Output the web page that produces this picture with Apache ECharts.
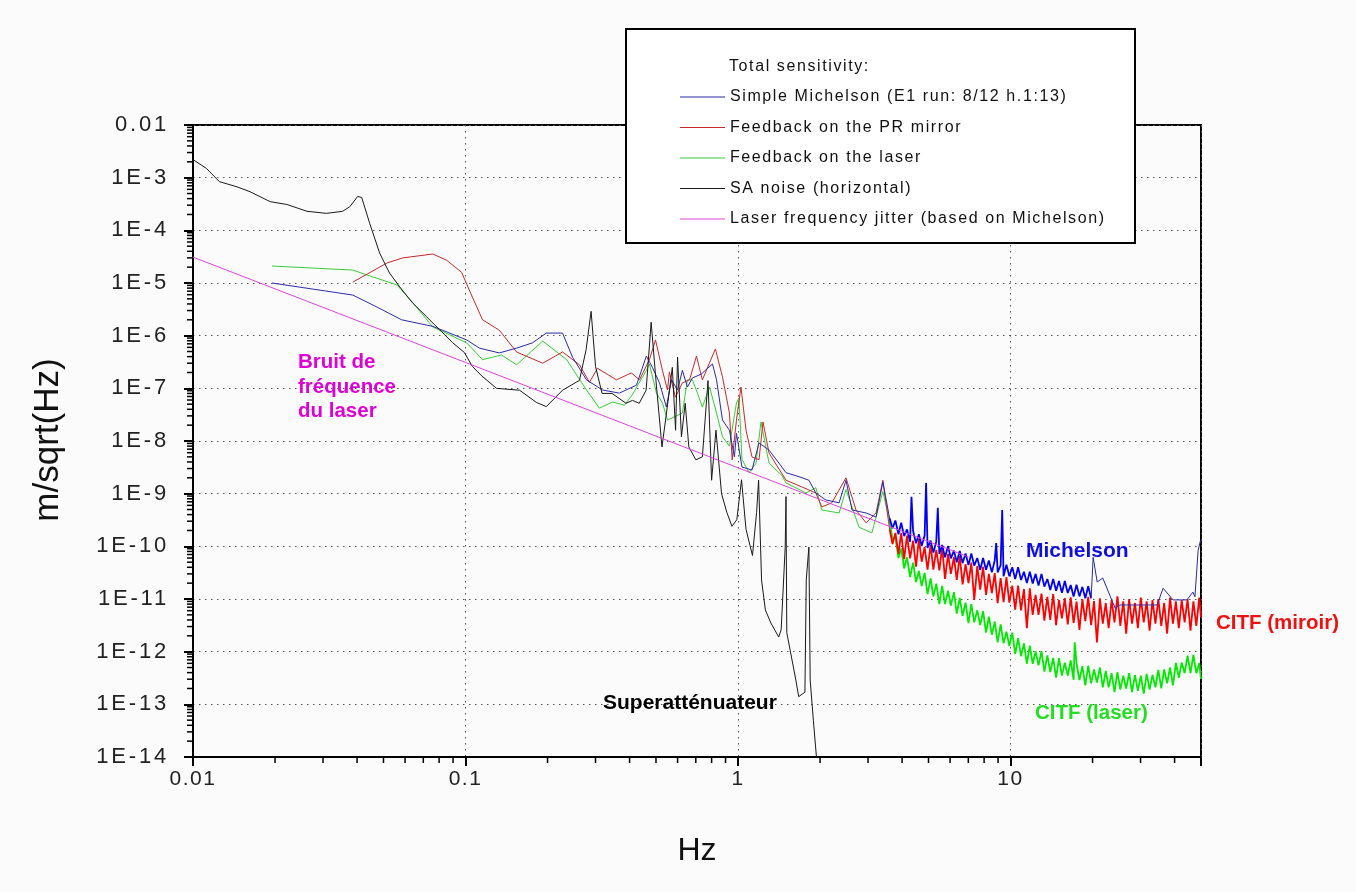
<!DOCTYPE html>
<html>
<head>
<meta charset="utf-8">
<script src="https://cdn.jsdelivr.net/npm/echarts@6/dist/echarts.min.js"></script>
<style>
html,body{margin:0;padding:0;background:#ffffff;}
#chart{width:1356px;height:892px;}
</style>
</head>
<body>
<div id="chart"></div>
<script>
// ---------- tick labels ----------
const xTickLabels = ['0.01', '0.1', '1', '10'];
const yTickLabels = ['0.01', '1E-3', '1E-4', '1E-5', '1E-6', '1E-7', '1E-8', '1E-9',
  '1E-10', '1E-11', '1E-12', '1E-13', '1E-14'];
const minorMultipliers = [2, 3, 4, 5, 6, 7, 8, 9];
const xDecades = [0.01, 0.1, 1, 10];
const yDecades = [1e-14, 1e-13, 1e-12, 1e-11, 1e-10, 1e-9, 1e-8, 1e-7, 1e-6, 1e-5, 1e-4, 1e-3];

// ---------- legend ----------
const legendTitle = 'Total sensitivity:';
const legendNames = [
  'Simple Michelson (E1 run: 8/12 h.1:13)',
  'Feedback on the PR mirror',
  'Feedback on the laser',
  'SA noise (horizontal)',
  'Laser frequency jitter (based on Michelson)'
];

// ---------- series data [Hz, m/sqrt(Hz)] ----------
const michelsonLow = [
  [0.0195, 1e-5], [0.0386, 5.9e-6], [0.0473, 3.5e-6], [0.0583, 2e-6], [0.0759, 1.5e-6],
  [0.101, 8.3e-7], [0.1125, 5.8e-7], [0.133, 4.7e-7], [0.154, 5.8e-7], [0.176, 7.3e-7],
  [0.198, 1.12e-6], [0.227, 1.12e-6], [0.247, 3.9e-7], [0.278, 1.45e-7], [0.318, 9.3e-8],
  [0.367, 8.1e-8], [0.424, 1.15e-7], [0.461, 4.1e-7], [0.485, 2.5e-7], [0.515, 1.27e-7],
  [0.546, 4.4e-8], [0.57, 1.45e-7], [0.6, 9.3e-8], [0.625, 2.2e-7], [0.652, 1.06e-7],
  [0.68, 1.57e-7], [0.734, 1.87e-7], [0.766, 2.3e-7], [0.806, 2.9e-7], [0.834, 1.45e-7],
  [0.877, 2.5e-8], [0.93, 1.6e-8], [0.97, 5e-9], [0.987, 1.4e-8], [1.034, 3.2e-9],
  [1.125, 2.8e-9], [1.194, 9.2e-9], [1.3, 6.7e-9], [1.414, 3.8e-9], [1.5, 2.5e-9],
  [1.674, 2.1e-9], [1.82, 1.8e-9], [1.93, 1.03e-9], [2.1, 7.6e-10], [2.35, 6.7e-10],
  [2.49, 1.8e-9], [2.62, 4.9e-10], [2.95, 4.3e-10], [3.21, 3.6e-10], [3.4, 1.67e-9],
  [3.6, 3.4e-10]
];
const michelsonHigh = [
  [3.6, 3.4e-10], [3.69, 2.2e-10], [3.78, 3.1e-10], [3.88, 1.7e-10], [3.97, 2.8e-10],
  [4.07, 1.56e-10], [4.17, 2.1e-10], [4.28, 1.22e-10], [4.33, 8.7e-10], [4.39, 1.95e-10],
  [4.5, 1.14e-10], [4.61, 1.7e-10], [4.72, 1.01e-10], [4.84, 1.6e-10], [4.9, 1.6e-9],
  [4.96, 9.3e-11], [5.09, 1.28e-10], [5.21, 7.6e-11], [5.34, 1.24e-10], [5.41, 5.4e-10],
  [5.48, 7.2e-11], [5.61, 1.06e-10], [5.75, 6.2e-11], [5.9, 1.01e-10], [6.04, 5.9e-11],
  [6.2, 8.3e-11], [6.35, 5.0e-11], [6.51, 8.2e-11], [6.67, 4.8e-11], [6.84, 7.3e-11],
  [7.01, 4.4e-11], [7.18, 7.3e-11], [7.36, 4.3e-11], [7.55, 6.0e-11], [7.74, 3.6e-11],
  [7.93, 6.0e-11], [8.13, 3.6e-11], [8.33, 5.4e-11], [8.54, 3.2e-11], [8.75, 5.4e-11],
  [8.86, 1.15e-10], [8.97, 3.2e-11], [9.2, 4.4e-11], [9.32, 4.9e-10], [9.43, 2.7e-11],
  [9.66, 4.5e-11], [9.9, 2.7e-11], [10.15, 4.0e-11], [10.4, 2.4e-11], [10.66, 4.0e-11],
  [10.93, 2.3e-11], [11.2, 3.3e-11], [11.48, 2.0e-11], [11.77, 3.3e-11], [12.06, 1.96e-11],
  [12.36, 3.0e-11], [12.67, 1.8e-11], [12.99, 3.0e-11], [13.31, 1.72e-11], [13.65, 2.4e-11],
  [13.99, 1.48e-11], [14.34, 2.4e-11], [14.7, 1.44e-11], [15.06, 2.2e-11], [15.44, 1.31e-11],
  [15.82, 2.2e-11], [16.22, 1.3e-11], [16.63, 1.84e-11], [17.04, 1.12e-11], [17.47, 1.87e-11],
  [17.9, 1.12e-11], [18.35, 1.7e-11], [18.81, 1.03e-11], [19.28, 1.74e-11], [19.76, 1.03e-11]
];
const michelsonTail = [
  [19.76, 1.03e-11], [20.1, 6.2e-11], [20.8, 2.1e-11], [21.8, 2.5e-11], [24.2, 6.7e-12],
  [25.2, 7.7e-12], [34.5, 7.7e-12], [36.3, 1.6e-11], [39.5, 9.6e-12], [44.4, 9.6e-12],
  [46.7, 1.35e-11], [47.5, 1.1e-11], [48.8, 8.4e-11], [49.8, 1.3e-10]
];

const mirrorLow = [
  [0.0386, 1.04e-5], [0.0515, 2.4e-5], [0.0589, 3e-5], [0.0759, 3.55e-5], [0.0853, 2.7e-5],
  [0.0967, 1.6e-5], [0.106, 5.4e-6], [0.1155, 2e-6], [0.133, 1.27e-6], [0.154, 4.9e-7],
  [0.192, 3e-7], [0.227, 4.9e-7], [0.262, 2.8e-7], [0.285, 1.3e-7], [0.305, 2.4e-7],
  [0.358, 1.45e-7], [0.406, 1.96e-7], [0.435, 1.45e-7], [0.473, 3.5e-7], [0.498, 8.3e-7],
  [0.528, 2.2e-7], [0.551, 9.3e-8], [0.56, 2.05e-7], [0.589, 6.8e-8], [0.625, 1.27e-7],
  [0.664, 1.45e-7], [0.704, 4.1e-7], [0.74, 1.45e-7], [0.771, 2.4e-7], [0.826, 5.6e-7],
  [0.877, 1.65e-7], [0.93, 3.4e-8], [0.952, 4.4e-9], [0.987, 2.5e-8], [1.025, 1.06e-7],
  [1.07, 1.6e-8], [1.125, 5e-9], [1.194, 4.4e-9], [1.235, 2.3e-8], [1.3, 5.9e-9],
  [1.5, 1.8e-9], [1.716, 1.34e-9], [1.93, 1.03e-9], [2.03, 5.6e-10], [2.21, 6.7e-10],
  [2.49, 2e-9], [2.71, 4.9e-10], [2.95, 2.8e-10], [3.21, 4.3e-10], [3.4, 1.8e-9],
  [3.6, 2.1e-10]
];
const mirrorHigh = [
  [3.6, 2.1e-10], [3.69, 1.1e-10], [3.78, 1.8e-10], [3.88, 7.2e-11], [3.97, 1.8e-10],
  [4.07, 5.7e-11], [4.17, 1.6e-10], [4.28, 5.9e-11], [4.39, 1.28e-10], [4.5, 4.1e-11],
  [4.61, 1.39e-10], [4.72, 5.1e-11], [4.84, 9.7e-11], [4.96, 3.6e-11], [5.09, 1.07e-10],
  [5.21, 3.6e-11], [5.34, 8.6e-11], [5.48, 3.5e-11], [5.61, 9.7e-11], [5.75, 2.4e-11],
  [5.9, 7.2e-11], [6.04, 3.0e-11], [6.2, 6.2e-11], [6.35, 2.3e-11], [6.51, 6.5e-11],
  [6.67, 1.9e-11], [6.84, 4.6e-11], [7.01, 2.0e-11], [7.18, 4.9e-11], [7.36, 9.6e-12],
  [7.55, 4.2e-11], [7.74, 1.5e-11], [7.93, 4.1e-11], [8.13, 1.2e-11], [8.33, 3.0e-11],
  [8.54, 1.3e-11], [8.75, 3.1e-11], [8.97, 8.3e-12], [9.2, 2.5e-11], [9.43, 8.7e-12],
  [9.66, 2.6e-11], [9.9, 8.5e-12], [10.15, 1.8e-11], [10.4, 6.3e-12], [10.66, 1.8e-11],
  [10.93, 6.1e-12], [11.2, 1.55e-11], [11.48, 2.8e-12], [11.77, 1.6e-11], [12.06, 5.0e-12],
  [12.36, 1.2e-11], [12.67, 5.0e-12], [12.99, 1.26e-11], [13.31, 3.9e-12], [13.65, 1.1e-11],
  [13.99, 4.0e-12], [14.34, 1.24e-11], [14.7, 3.2e-12], [15.06, 9.5e-12], [15.44, 4.3e-12],
  [15.82, 1.04e-11], [16.22, 3.3e-12], [16.63, 1.08e-11], [17.04, 3.5e-12], [17.47, 8.9e-12],
  [17.9, 2.6e-12], [18.35, 9.9e-12], [18.81, 3.8e-12], [19.28, 1.1e-11], [19.76, 3.2e-12],
  [20.25, 9.1e-12], [20.76, 1.5e-12], [21.28, 1.03e-11], [21.81, 3.4e-12], [22.36, 8.4e-12],
  [22.91, 2.8e-12], [23.49, 9.5e-12], [24.07, 3.6e-12], [24.68, 1.12e-11], [25.29, 3.1e-12],
  [25.93, 9.0e-12], [26.57, 2.2e-12], [27.24, 1.0e-11], [27.92, 3.4e-12], [28.62, 8.4e-12],
  [29.33, 2.8e-12], [30.07, 1.06e-11], [30.82, 3.6e-12], [31.59, 9.0e-12], [32.38, 2.5e-12],
  [33.19, 9.5e-12], [34.02, 3.4e-12], [34.87, 1.0e-11], [35.74, 3.1e-12], [36.63, 8.4e-12],
  [37.55, 2.2e-12], [38.49, 1.06e-11], [39.45, 3.4e-12], [40.44, 9.0e-12], [41.45, 2.8e-12],
  [42.48, 9.5e-12], [43.55, 3.6e-12], [44.63, 1.0e-11], [45.75, 2.5e-12], [46.89, 9.0e-12],
  [48.06, 3.1e-12], [49.26, 1.06e-11], [50, 4.5e-12]
];

const laserLow = [
  [0.0195, 2.1e-5], [0.0386, 1.76e-5], [0.0435, 1.42e-5], [0.056, 9.2e-6], [0.0641, 4.2e-6],
  [0.0759, 1.46e-6], [0.101, 7.3e-7], [0.1155, 3.5e-7], [0.1355, 4.3e-7], [0.154, 2.8e-7],
  [0.192, 7.9e-7], [0.235, 3.5e-7], [0.278, 9.3e-8], [0.31, 4.2e-8], [0.346, 5.5e-8],
  [0.383, 4.8e-8], [0.409, 7.5e-8], [0.461, 2.2e-7], [0.473, 2.9e-7], [0.502, 8.1e-8],
  [0.528, 5.3e-8], [0.551, 2.5e-8], [0.583, 2.85e-8], [0.625, 3.4e-8], [0.652, 1.45e-7],
  [0.68, 1.45e-7], [0.71, 8.1e-8], [0.74, 4.4e-8], [0.786, 1.06e-7], [0.834, 3.4e-8],
  [0.877, 1.2e-8], [0.93, 8e-9], [0.987, 5.3e-8], [1.008, 6.5e-8], [1.034, 4.5e-9],
  [1.097, 2.5e-9], [1.164, 3.8e-9], [1.214, 2.3e-8], [1.3, 3.8e-9], [1.45, 2.2e-9],
  [1.5, 1.6e-9], [1.776, 1.03e-9], [1.93, 1.3e-9], [2.03, 4.9e-10], [2.35, 4.3e-10],
  [2.49, 1.2e-9], [2.78, 2.3e-10], [3.1, 1.8e-10], [3.4, 1.1e-9], [3.6, 3e-10]
];
const laserHigh = [
  [3.6, 3.0e-10], [3.69, 1.36e-10], [3.78, 1.5e-10], [3.88, 6.0e-11], [3.97, 9.1e-11],
  [4.07, 3.8e-11], [4.17, 6.2e-11], [4.28, 2.6e-11], [4.39, 4.9e-11], [4.5, 2.1e-11],
  [4.61, 3.4e-11], [4.72, 1.76e-11], [4.84, 3.15e-11], [4.96, 1.24e-11], [5.09, 2.45e-11],
  [5.21, 1.12e-11], [5.34, 1.96e-11], [5.48, 8.0e-12], [5.61, 1.78e-11], [5.75, 8.0e-12],
  [5.9, 1.43e-11], [6.04, 7.5e-12], [6.2, 1.35e-11], [6.35, 5.3e-12], [6.51, 1.05e-11],
  [6.67, 4.8e-12], [6.84, 8.5e-12], [7.01, 3.5e-12], [7.18, 8.0e-12], [7.36, 3.6e-12],
  [7.55, 6.1e-12], [7.74, 3.2e-12], [7.93, 5.9e-12], [8.13, 2.3e-12], [8.33, 4.6e-12],
  [8.54, 2.1e-12], [8.75, 3.7e-12], [8.97, 1.5e-12], [9.2, 3.3e-12], [9.43, 1.44e-12],
  [9.66, 2.4e-12], [9.9, 1.28e-12], [10.15, 2.3e-12], [10.4, 9.1e-13], [10.66, 1.8e-12],
  [10.93, 8.2e-13], [11.2, 1.44e-12], [11.48, 5.9e-13], [11.77, 1.3e-12], [12.06, 5.9e-13],
  [12.36, 1.01e-12], [12.67, 5.5e-13], [12.99, 1.02e-12], [13.31, 4.2e-13], [13.65, 8.5e-13],
  [13.99, 4.1e-13], [14.34, 7.6e-13], [14.7, 3.2e-13], [15.06, 7.5e-13], [15.44, 3.5e-13],
  [15.82, 6.2e-13], [16.22, 3.5e-13], [16.63, 6.8e-13], [17.04, 2.9e-13], [17.2, 1.5e-12],
  [17.47, 5.9e-13], [17.9, 2.9e-13], [18.35, 5.3e-13], [18.81, 2.3e-13], [19.28, 5.4e-13],
  [19.76, 2.5e-13], [20.25, 4.6e-13], [20.76, 2.6e-13], [21.28, 5.0e-13], [21.81, 2.1e-13],
  [22.36, 4.3e-13], [22.91, 2.1e-13], [23.49, 3.9e-13], [24.07, 1.7e-13], [24.68, 4.1e-13],
  [25.29, 1.9e-13], [25.93, 3.5e-13], [26.57, 2.0e-13], [27.24, 3.9e-13], [27.92, 1.7e-13],
  [28.62, 3.6e-13], [29.33, 1.8e-13], [30.07, 3.5e-13], [30.82, 1.6e-13], [31.59, 3.8e-13],
  [32.38, 1.9e-13], [33.19, 3.6e-13], [34.02, 2.1e-13], [34.87, 4.5e-13], [35.74, 2.0e-13],
  [36.63, 4.6e-13], [37.55, 2.5e-13], [38.49, 5.0e-13], [39.45, 2.3e-13], [40.44, 6.1e-13],
  [41.45, 3.2e-13], [42.48, 6.2e-13], [43.55, 3.9e-13], [44.63, 8.4e-13], [45.75, 3.9e-13],
  [46.89, 8.7e-13], [48.06, 3.9e-13], [49.26, 6.1e-13], [50, 3.0e-13]
];

const saNoise = [
  [0.01, 2.2e-3], [0.0112, 1.5e-3], [0.0125, 8.4e-4], [0.0145, 6.7e-4], [0.0162, 5.4e-4],
  [0.0192, 3.5e-4], [0.0221, 3.1e-4], [0.0262, 2.3e-4], [0.0309, 2.1e-4], [0.0354, 2.3e-4],
  [0.0376, 2.8e-4], [0.0402, 4.4e-4], [0.0416, 4.2e-4], [0.0445, 1.36e-4], [0.0484, 3.7e-5],
  [0.0526, 1.55e-5], [0.0574, 8.4e-6], [0.0639, 4.2e-6], [0.0719, 2.3e-6], [0.0803, 1.3e-6],
  [0.0896, 7.4e-7], [0.099, 4.8e-7], [0.106, 2.6e-7], [0.115, 1.7e-7], [0.13, 1e-7],
  [0.158, 9.2e-8], [0.182, 5.4e-8], [0.198, 4.5e-8], [0.227, 9.2e-8], [0.262, 1.42e-7],
  [0.277, 5.4e-7], [0.289, 2.9e-6], [0.3, 2.6e-7], [0.317, 8e-8], [0.345, 8e-8],
  [0.388, 5.2e-8], [0.41, 5.9e-8], [0.434, 5.2e-8], [0.46, 9.2e-8], [0.48, 1.8e-6],
  [0.5, 1.4e-7], [0.526, 7.7e-9], [0.55, 4.4e-8], [0.574, 2.5e-7], [0.59, 1.6e-8],
  [0.6, 3.9e-7], [0.62, 1.2e-8], [0.64, 5.2e-8], [0.66, 7.7e-9], [0.70, 4.4e-9],
  [0.74, 5e-9], [0.776, 1.4e-7], [0.80, 1.8e-9], [0.83, 1.6e-8], [0.87, 1e-9],
  [0.91, 4.4e-10], [0.95, 2.4e-10], [0.99, 3.2e-10], [1.03, 1.84e-9], [1.07, 2.1e-10],
  [1.13, 6.7e-11], [1.17, 4.4e-10], [1.19, 1.8e-9], [1.22, 2.3e-11], [1.26, 6.2e-12],
  [1.32, 3.5e-12], [1.41, 1.9e-12], [1.44, 2.6e-12], [1.49, 9.7e-11], [1.5, 8.8e-10],
  [1.51, 2.3e-12], [1.63, 2.9e-13], [1.67, 1.4e-13], [1.76, 1.7e-13], [1.78, 2.3e-11],
  [1.82, 9.7e-11], [1.84, 2.9e-13], [1.89, 5e-14], [1.94, 1e-14]
];

const jitter = [[0.01, 3.1e-5], [0.1, 3.1e-7], [1, 3.1e-9], [7, 6.3e-11]];

// ---------- axis ranges ----------
const X_MIN = 0.01, X_MAX = 50, Y_MIN = 1e-14, Y_MAX = 0.01;

// ---------- letter spacing for the spaced-out fonts of the original ----------
function spacingFor(t, font) {
  if (font.indexOf('22px') >= 0 && yTickLabels.indexOf(t) >= 0) return '2.8px';
  if (font.indexOf('21px') >= 0 && xTickLabels.indexOf(t) >= 0) return '1.5px';
  if (font.indexOf('16px') >= 0 && (legendNames.indexOf(t) >= 0 || t === legendTitle)) return '1.6px';
  return null;
}
(function () {
  const proto = CanvasRenderingContext2D.prototype;
  if (!('letterSpacing' in proto)) return;
  const orig = proto.fillText;
  proto.fillText = function (t, x, y, w) {
    const ls = spacingFor(String(t), this.font || '');
    this.letterSpacing = ls || '0px';
    if (w === undefined) orig.call(this, t, x, y); else orig.call(this, t, x, y, w);
    this.letterSpacing = '0px';
  };
})();

// ---------- minor ticks ----------
const xMinor = [];
xDecades.forEach(d => minorMultipliers.forEach(m => { const v = +(m * d).toPrecision(3); if (v <= X_MAX) xMinor.push([v, Y_MIN]); }));
const yMinor = [];
yDecades.forEach(d => minorMultipliers.forEach(m => { yMinor.push([X_MIN, +(m * d).toPrecision(3)]); }));

function labelIndex(v) {
  const e = Math.log10(v);
  const r = Math.round(e);
  return Math.abs(e - r) < 1e-6 ? r : null;
}

const FONT = '"Liberation Sans", Arial, Helvetica, sans-serif';
const C_BLUE = '#2b2ba6', C_BLUE_HF = '#0000ee';
const C_RED = '#c42a2a', C_RED_HF = '#ff0000';
const C_GREEN = '#38cc38', C_GREEN_HF = '#00e800';
const C_BLACK = '#1a1a1a', C_PINK = '#dd44dd';

function lineSeries(name, data, color, width, z) {
  return {
    type: 'line', name: name, data: data, symbol: 'none', showSymbol: false,
    clip: true, animation: false, silent: true, z: z,
    lineStyle: { color: color, width: width },
    itemStyle: { color: color },
    emphasis: { disabled: true }
  };
}

const chart = echarts.init(document.getElementById('chart'), null, { renderer: 'canvas' });

const option = {
  animation: false,
  backgroundColor: '#fbfbfb',
  grid: {
    left: 193, top: 125, width: 1008, height: 632,
    show: true, borderColor: '#000', borderWidth: 2, backgroundColor: 'transparent',
    outerBoundsMode: 'none'
  },
  xAxis: {
    type: 'log', logBase: 10, min: X_MIN, max: X_MAX, interval: 1,
    axisLine: { show: true, lineStyle: { color: '#000', width: 2 } },
    axisTick: { show: true, length: 9, inside: false, lineStyle: { color: '#000', width: 2 } },
    minorTick: { show: false },
    axisLabel: {
      show: true, margin: 12, color: '#222', fontSize: 21, fontFamily: FONT,
      formatter: function (v) { const e = labelIndex(v); return e === null ? '' : (xTickLabels[e + 2] || ''); }
    },
    splitLine: { show: true, lineStyle: { color: '#555', width: 1, type: [1.5, 4.5] } }
  },
  yAxis: {
    type: 'log', logBase: 10, min: Y_MIN, max: Y_MAX, interval: 1,
    axisLine: { show: true, lineStyle: { color: '#000', width: 2 } },
    axisTick: { show: true, length: 9, inside: false, lineStyle: { color: '#000', width: 2 } },
    minorTick: { show: false },
    axisLabel: {
      show: true, margin: 24, color: '#222', fontSize: 22, fontFamily: FONT,
      formatter: function (v) { const e = labelIndex(v); return e === null ? '' : (yTickLabels[-2 - e] || ''); }
    },
    splitLine: { show: true, lineStyle: { color: '#555', width: 1, type: [1.5, 4.5] } }
  },
  legend: {
    show: true, orient: 'vertical', left: 680, top: 89, padding: 0,
    itemGap: 14.5, itemWidth: 45, itemHeight: 1.2, icon: 'rect',
    selectedMode: false, z: 12, zlevel: 0,
    data: legendNames,
    textStyle: { fontSize: 16, fontFamily: FONT, color: '#111', lineHeight: 16, padding: [0, 0, 0, 0] }
  },
  graphic: [
    { type: 'rect', z: 10, shape: { x: 626, y: 29, width: 509, height: 214 },
      style: { fill: '#ffffff', stroke: '#000', lineWidth: 2 } },
    { type: 'text', z: 12, x: 729, y: 67,
      style: { text: legendTitle, fill: '#111', fontSize: 16, fontFamily: FONT, textAlign: 'left', textVerticalAlign: 'middle' } },
    { type: 'text', z: 12, x: 298, y: 387,
      style: { text: 'Bruit de\nfréquence\ndu laser', fill: '#dd00d4', fontSize: 20.5, fontWeight: 'bold', fontFamily: FONT,
        lineHeight: 24.5, textAlign: 'left', textVerticalAlign: 'middle' } },
    { type: 'text', z: 12, x: 603, y: 703,
      style: { text: 'Superatténuateur', fill: '#000', fontSize: 21, fontWeight: 'bold', fontFamily: FONT, textAlign: 'left', textVerticalAlign: 'middle' } },
    { type: 'text', z: 12, x: 1026, y: 551,
      style: { text: 'Michelson', fill: '#1010dd', fontSize: 21, fontWeight: 'bold', fontFamily: FONT, textAlign: 'left', textVerticalAlign: 'middle' } },
    { type: 'text', z: 12, x: 1216, y: 623,
      style: { text: 'CITF (miroir)', fill: '#ee1111', fontSize: 20.5, fontWeight: 'bold', fontFamily: FONT, textAlign: 'left', textVerticalAlign: 'middle' } },
    { type: 'text', z: 12, x: 1035, y: 713,
      style: { text: 'CITF (laser)', fill: '#22dd22', fontSize: 20.5, fontWeight: 'bold', fontFamily: FONT, textAlign: 'left', textVerticalAlign: 'middle' } },
    { type: 'text', z: 12, x: 697, y: 851,
      style: { text: 'Hz', fill: '#111', fontSize: 32, fontFamily: FONT, textAlign: 'center', textVerticalAlign: 'middle' } },
    { type: 'text', z: 12, x: 48, y: 440, rotation: Math.PI / 2,
      style: { text: 'm/sqrt(Hz)', fill: '#111', fontSize: 35, fontFamily: FONT, textAlign: 'center', textVerticalAlign: 'middle' } }
  ],
  series: [
    lineSeries(legendNames[2], laserLow, C_GREEN, 1, 3),
    lineSeries(legendNames[2], laserHigh, C_GREEN_HF, 1.8, 3),
    lineSeries(legendNames[1], mirrorLow, C_RED, 1, 4),
    lineSeries(legendNames[1], mirrorHigh, C_RED_HF, 1.8, 4),
    lineSeries(legendNames[0], michelsonLow, C_BLUE, 1, 5),
    lineSeries(legendNames[0], michelsonHigh, C_BLUE_HF, 1.8, 5),
    lineSeries(legendNames[0], michelsonTail, C_BLUE, 1, 5),
    lineSeries(legendNames[3], saNoise, C_BLACK, 1, 6),
    lineSeries(legendNames[4], jitter, C_PINK, 1, 7),
    {
      type: 'custom', name: 'xMinorTicks', data: xMinor, silent: true, clip: false, z: 8,
      renderItem: function (params, api) {
        const p = api.coord([api.value(0), api.value(1)]);
        return { type: 'line', shape: { x1: p[0], y1: p[1], x2: p[0], y2: p[1] + 6 },
          style: { stroke: '#000', lineWidth: 1.5 } };
      }
    },
    {
      type: 'custom', name: 'yMinorTicks', data: yMinor, silent: true, clip: false, z: 8,
      renderItem: function (params, api) {
        const p = api.coord([api.value(0), api.value(1)]);
        return { type: 'line', shape: { x1: p[0] - 6, y1: p[1], x2: p[0], y2: p[1] },
          style: { stroke: '#000', lineWidth: 1.5 } };
      }
    }
  ]
};
chart.setOption(option);
</script>
</body>
</html>
